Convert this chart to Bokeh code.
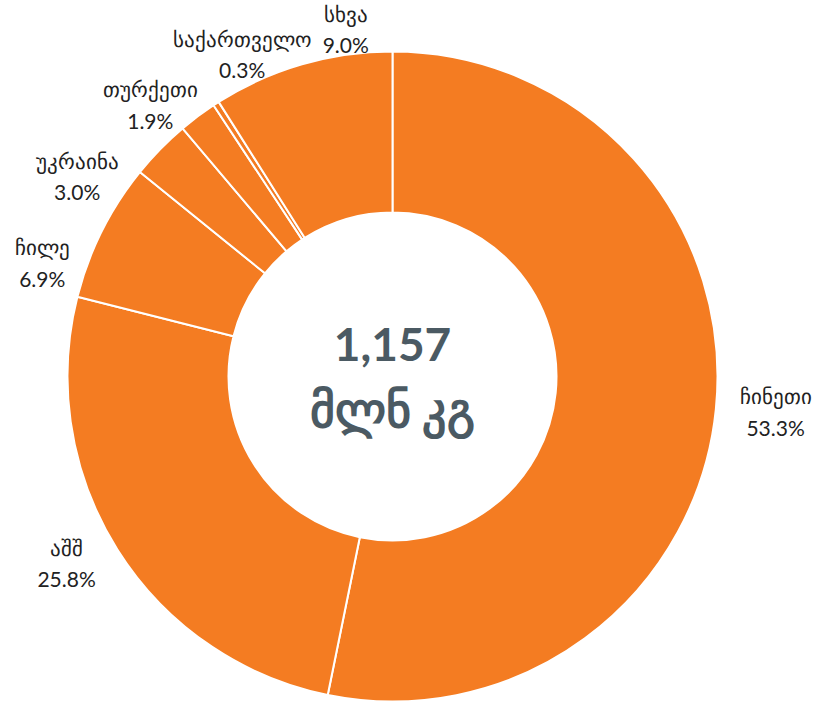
import math
from bokeh.plotting import figure
from bokeh.models import Range1d, ColumnDataSource
from bokeh.core.properties import value
from bokeh.embed import file_html
from bokeh.resources import INLINE

# ---- data ----
countries = ["ჩინეთი", "აშშ", "ჩილე", "უკრაინა", "თურქეთი", "საქართველო", "სხვა"]
shares = [53.3, 25.8, 6.9, 3.0, 1.9, 0.3, 9.0]
total_mln_kg = 1157
unit_label = "მლნ კგ"

# ---- layout / style ----
ORANGE = "#f47c22"
DARK = "#4b5a63"
R_OUT, R_IN = 325, 164
RX_LAB, RY_LAB = 385, 350
GAP_DEG = 16
FONT = "Lato"
LAB_SIZE = 21

W, H = 839, 704
X0, X1 = -392, 447
Y0, Y1 = -328, 376
p = figure(width=W, height=H, output_backend="svg", toolbar_location=None,
           x_range=Range1d(X0, X1), y_range=Range1d(Y0, Y1),
           min_border=0)
p.axis.visible = False
p.grid.visible = False
p.outline_line_color = None
p.background_fill_color = "white"
p.border_fill_color = "white"

tot = sum(shares)
cum = 0.0
starts, ends, mids = [], [], []
for s in shares:
    a0 = cum / tot
    cum += s
    a1 = cum / tot
    starts.append(math.pi / 2 - a0 * 2 * math.pi)
    ends.append(math.pi / 2 - a1 * 2 * math.pi)
    mids.append((a0 + a1) / 2 * 360.0)  # degrees clockwise from top

src = ColumnDataSource(dict(x=[0] * len(shares), y=[0] * len(shares),
                            start=starts, end=ends))
p.annular_wedge(x="x", y="y", inner_radius=R_IN, outer_radius=R_OUT,
                start_angle="start", end_angle="end", direction="clock",
                fill_color=ORANGE, line_color="white", line_width=2, source=src)

# ---- label placement with simple cluster spreading ----
order = sorted(range(len(mids)), key=lambda i: mids[i])
clusters = [[i] for i in order]

def cluster_pos(c):
    m = sum(mids[i] for i in c) / len(c)
    first = m - GAP_DEG * (len(c) - 1) / 2
    return [first + GAP_DEG * k for k in range(len(c))]

changed = True
while changed:
    changed = False
    for k in range(len(clusters) - 1):
        a = cluster_pos(clusters[k])
        b = cluster_pos(clusters[k + 1])
        if b[0] - a[-1] < GAP_DEG:
            clusters[k] = clusters[k] + clusters[k + 1]
            del clusters[k + 1]
            changed = True
            break

lab_ang = [0.0] * len(mids)
for c in clusters:
    for i, a in zip(c, cluster_pos(c)):
        lab_ang[i] = a

ltext = [f"{n}\n{s:.1f}%" for n, s in zip(countries, shares)]
lx, ly = [], []
for a, t in zip(lab_ang, ltext):
    half_w = 0.33 * LAB_SIZE * max(len(s) for s in t.split("\n"))
    x = RX_LAB * math.sin(math.radians(a))
    x = min(max(x, X0 + 14 + half_w), X1 - 14 - half_w)
    lx.append(x)
    ly.append(RY_LAB * math.cos(math.radians(a)))

p.text(x=lx, y=ly, text=ltext, text_align="center", text_baseline="middle",
       text_font=value(FONT), text_font_size=f"{LAB_SIZE}px", text_color="#222222",
       text_line_height=1.25)

# ---- center total ----
p.text(x=[0], y=[32], text=[f"{total_mln_kg:,}"], text_align="center",
       text_baseline="middle", text_font=value(FONT), text_font_size="46px",
       text_font_style="bold", text_color=DARK)
p.text(x=[0], y=[-32], text=[unit_label], text_align="center",
       text_baseline="middle", text_font=value(FONT), text_font_size="48px",
       text_font_style="bold", text_color=DARK)

open("out.html", "w").write(file_html(p, INLINE))
